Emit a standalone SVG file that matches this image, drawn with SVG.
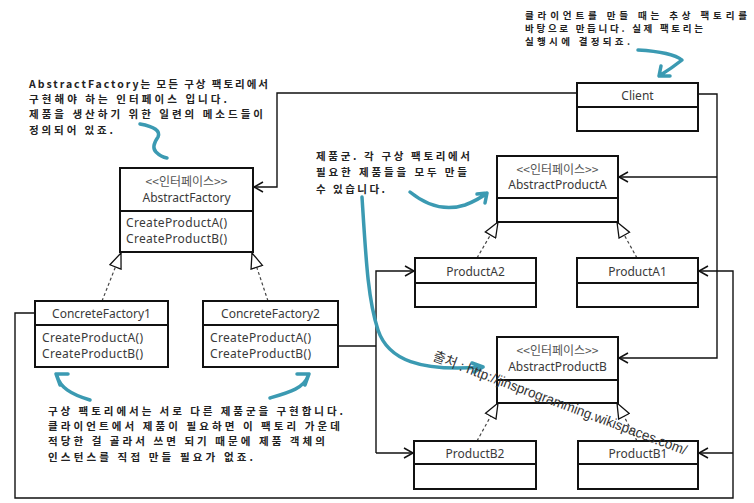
<svg xmlns="http://www.w3.org/2000/svg" width="754" height="503" viewBox="0 0 754 503">
<style>
.box rect{fill:#fff;stroke:#111;stroke-width:2}
.box line{stroke:#111;stroke-width:2}
.t{font-family:"Noto Sans","Noto Sans CJK KR",sans-serif;font-size:12px;fill:#3a3a3a}
.s{font-family:"Noto Sans CJK KR","Noto Sans",sans-serif;font-size:12px;fill:#555}
.c{text-anchor:middle}
.con{fill:none;stroke:#111;stroke-width:1.4}
.dash{fill:none;stroke:#444;stroke-width:1.2;stroke-dasharray:3,2.5}
.note{font-family:"Noto Sans CJK KR","Noto Sans",sans-serif;font-size:10.5px;font-weight:bold;fill:#222}
.sm{font-size:9.5px}
.teal{fill:none;stroke:#3b9ab2;stroke-width:3.5;stroke-linecap:round;stroke-linejoin:round}
.wm{font-family:"Liberation Sans","Noto Sans CJK KR",sans-serif;font-size:14px;fill:#333}
</style>
<defs>
<marker id="arr" markerUnits="userSpaceOnUse" markerWidth="12" markerHeight="12" refX="10" refY="6" orient="auto">
<path d="M1,1 L10,6 L1,11" fill="none" stroke="#111" stroke-width="1.5"/>
</marker>
<marker id="gen" markerUnits="userSpaceOnUse" markerWidth="18" markerHeight="14" refX="16" refY="7" orient="auto">
<path d="M1,1 L16,7 L1,13 Z" fill="#fff" stroke="#111" stroke-width="1.3"/>
</marker>
</defs>
<rect width="754" height="503" fill="#fff"/>

<g id="connectors">
<path class="con" d="M577,93 H277 V187 H254" marker-end="url(#arr)"/>
<path class="con" d="M698,94 H717 V358 H619" marker-end="url(#arr)"/>
<path class="con" d="M717,177 H619" marker-end="url(#arr)"/>
<path class="con" d="M35,313 H15 V498 H733 V271 H699" marker-end="url(#arr)"/>
<path class="con" d="M733,453 H699" marker-end="url(#arr)"/>
<path class="con" d="M338,346 H376"/>
<path class="con" d="M376,453 V271 H414" marker-end="url(#arr)"/>
<path class="con" d="M376,453 H413" marker-end="url(#arr)"/>
<path class="dash" d="M102,301 L121,253" marker-end="url(#gen)"/>
<path class="dash" d="M268,301 L252,253" marker-end="url(#gen)"/>
<path class="dash" d="M477,258 L498,222" marker-end="url(#gen)"/>
<path class="dash" d="M637,258 L617,222" marker-end="url(#gen)"/>
<path class="dash" d="M477,441 L498,403" marker-end="url(#gen)"/>
<path class="dash" d="M637,441 L617,403" marker-end="url(#gen)"/>
</g>

<g id="client" class="box">
<rect x="577" y="83" width="121" height="48"/>
<line x1="577" y1="107" x2="698" y2="107"/>
<text class="t c" x="637.5" y="100">Client</text>
</g>

<g id="abstractFactory" class="box">
<rect x="120" y="168" width="133" height="84"/>
<line x1="120" y1="211" x2="253" y2="211"/>
<text class="s c" x="186.5" y="186">&lt;&lt;인터페이스&gt;&gt;</text>
<text class="t c" x="186.5" y="202">AbstractFactory</text>
<text class="t" x="126" y="227" textLength="101">CreateProductA()</text>
<text class="t" x="126" y="243" textLength="101">CreateProductB()</text>
</g>

<g id="concreteFactory1" class="box">
<rect x="35" y="301" width="133" height="66"/>
<line x1="35" y1="325" x2="168" y2="325"/>
<text class="t c" x="101.5" y="318">ConcreteFactory1</text>
<text class="t" x="42" y="342" textLength="101">CreateProductA()</text>
<text class="t" x="42" y="358" textLength="101">CreateProductB()</text>
</g>

<g id="concreteFactory2" class="box">
<rect x="203" y="301" width="135" height="66"/>
<line x1="203" y1="325" x2="338" y2="325"/>
<text class="t c" x="270.5" y="318">ConcreteFactory2</text>
<text class="t" x="210" y="342" textLength="101">CreateProductA()</text>
<text class="t" x="210" y="358" textLength="101">CreateProductB()</text>
</g>

<g id="abstractProductA" class="box">
<rect x="497" y="156" width="121" height="66"/>
<line x1="497" y1="198" x2="618" y2="198"/>
<text class="s c" x="557.5" y="174">&lt;&lt;인터페이스&gt;&gt;</text>
<text class="t c" x="557.5" y="189">AbstractProductA</text>
</g>

<g id="productA2" class="box">
<rect x="415" y="258" width="121" height="49"/>
<line x1="415" y1="283" x2="536" y2="283"/>
<text class="t c" x="475.5" y="276">ProductA2</text>
</g>

<g id="productA1" class="box">
<rect x="577" y="258" width="121" height="49"/>
<line x1="577" y1="283" x2="698" y2="283"/>
<text class="t c" x="637.5" y="276">ProductA1</text>
</g>

<g id="abstractProductB" class="box">
<rect x="497" y="337" width="121" height="66"/>
<line x1="497" y1="380" x2="618" y2="380"/>
<text class="s c" x="557.5" y="355">&lt;&lt;인터페이스&gt;&gt;</text>
<text class="t c" x="557.5" y="371">AbstractProductB</text>
</g>

<g id="productB2" class="box">
<rect x="414" y="441" width="122" height="48"/>
<line x1="414" y1="464" x2="536" y2="464"/>
<text class="t c" x="475" y="458">ProductB2</text>
</g>

<g id="productB1" class="box">
<rect x="578" y="441" width="120" height="48"/>
<line x1="578" y1="464" x2="698" y2="464"/>
<text class="t c" x="638" y="458">ProductB1</text>
</g>

<g id="notes">
<text class="note" x="29" y="88" textLength="239" lengthAdjust="spacing">AbstractFactory는 모든 구상 팩토리에서</text>
<text class="note" x="29" y="103" textLength="198" lengthAdjust="spacing">구현해야 하는 인터페이스 입니다.</text>
<text class="note" x="29" y="118" textLength="234" lengthAdjust="spacing">제품을 생산하기 위한 일련의 메소드들이</text>
<text class="note" x="29" y="134" textLength="84" lengthAdjust="spacing">정의되어 있죠.</text>

<text class="note sm" x="525" y="19" textLength="222" lengthAdjust="spacing">클라이언트를 만들 때는 추상 팩토리를</text>
<text class="note sm" x="525" y="32" textLength="178" lengthAdjust="spacing">바탕으로 만듭니다. 실제 팩토리는</text>
<text class="note sm" x="525" y="45" textLength="105" lengthAdjust="spacing">실행시에 결정되죠.</text>

<text class="note" x="316" y="160" textLength="154" lengthAdjust="spacing">제품군. 각 구상 팩토리에서</text>
<text class="note" x="316" y="176" textLength="151" lengthAdjust="spacing">필요한 제품들을 모두 만들</text>
<text class="note" x="316" y="193" textLength="69" lengthAdjust="spacing">수 있습니다.</text>

<text class="note" x="48" y="415" textLength="295" lengthAdjust="spacing">구상 팩토리에서는 서로 다른 제품군을 구현합니다.</text>
<text class="note" x="48" y="430" textLength="292" lengthAdjust="spacing">클라이언트에서 제품이 필요하면 이 팩토리 가운데</text>
<text class="note" x="48" y="445" textLength="277" lengthAdjust="spacing">적당한 걸 골라서 쓰면 되기 때문에 제품 객체의</text>
<text class="note" x="48" y="461" textLength="205" lengthAdjust="spacing">인스턴스를 직접 만들 필요가 없죠.</text>
</g>

<g id="highlights">
<path class="teal" d="M140,124 Q162,128 158,137 Q151,147 156,152 Q161,157 167,158"/>
<path class="teal" d="M638,50 Q672,52 682,60 Q672,68 659,76 M659,76 L661,66 M659,76 L670,76"/>
<path class="teal" d="M410,192 Q437,214 465,205 Q478,200 487,193 M487,193 L477,194 M487,193 L485,203"/>
<path class="teal" d="M362,197 C366,260 368,300 378,330 C388,360 420,372 483,367 M483,367 L472,363 M483,367 L474,372"/>
<path class="teal" d="M90,400 C70,394 60,387 57,376 M56,374 L68,374 M56,374 L60,385"/>
<path class="teal" d="M270,398 C290,392 304,388 308,376 M309,374 L297,374 M309,374 L305,385"/>
</g>

<text class="wm" x="432" y="360" transform="rotate(20.6 432 360)" textLength="270" lengthAdjust="spacingAndGlyphs">출처 : http://jinsprogramming.wikispaces.com/</text>
</svg>
